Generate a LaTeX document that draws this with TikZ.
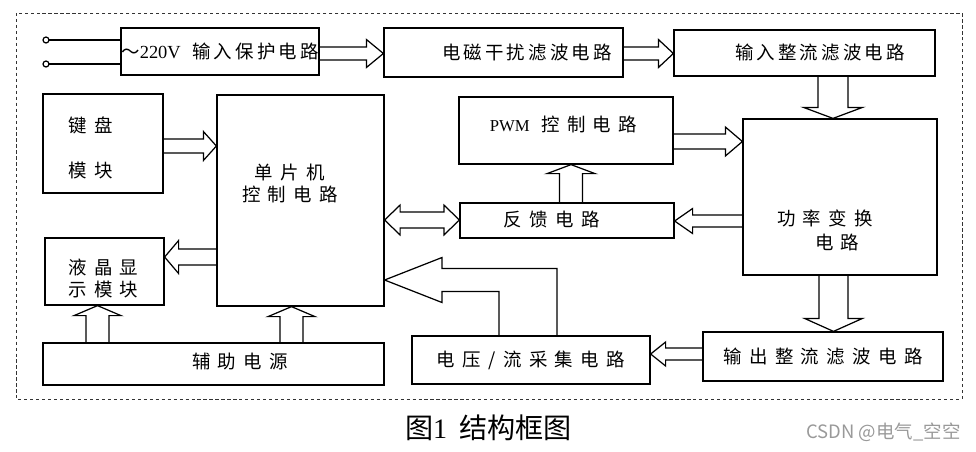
\documentclass[tikz,border=0pt]{standalone}
\usepackage{fontspec}
\setmainfont{Liberation Serif}
\newfontfamily\cjk[LetterSpace=40]{Noto Sans CJK SC}
\newfontfamily\cjkt[LetterSpace=17]{Noto Sans CJK SC}
\newfontfamily\cjkc{Noto Sans CJK SC}
\usetikzlibrary{calc}

\newdimen\Upx
\Upx=0.02cm
\newcommand{\widecn}{\cjk\fontsize{10.5}{13}\selectfont}
\newcommand{\tightcn}{\cjkt\fontsize{10.5}{13}\selectfont}

% hollow block arrow: tail, tip, shaft half width, head half width, head length
\newcommand{\blkarrow}[5]{%
  \coordinate (ta) at (#1);
  \coordinate (tb) at (#2);
  \coordinate (hb) at ($(tb)!#5*\Upx!(ta)$);
  \draw[blkline] ($(ta)!#3*\Upx!90:(tb)$) -- ($(hb)!#3*\Upx!90:(tb)$) -- ($(hb)!#4*\Upx!90:(tb)$)
    -- (tb) -- ($(hb)!#4*\Upx!-90:(tb)$) -- ($(hb)!#3*\Upx!-90:(tb)$) -- ($(ta)!#3*\Upx!-90:(tb)$);
}
% hollow arrow with two heads
\newcommand{\dblarrow}[5]{%
  \coordinate (da) at (#1);
  \coordinate (db) at (#2);
  \coordinate (ha) at ($(da)!#5*\Upx!(db)$);
  \coordinate (hb) at ($(db)!#5*\Upx!(da)$);
  \draw[blkline] (da) -- ($(ha)!#4*\Upx!90:(db)$) -- ($(ha)!#3*\Upx!90:(db)$) -- ($(hb)!#3*\Upx!-90:(da)$)
    -- ($(hb)!#4*\Upx!-90:(da)$) -- (db) -- ($(hb)!#4*\Upx!90:(da)$) -- ($(hb)!#3*\Upx!90:(da)$)
    -- ($(ha)!#3*\Upx!-90:(db)$) -- ($(ha)!#4*\Upx!-90:(db)$) -- cycle;
}

\begin{document}
\begin{tikzpicture}[x=0.02cm,y=-0.02cm,
  box/.style={draw,line width=0.7pt,inner sep=0pt,font=\widecn},
  sz/.style 2 args={minimum width=#1\Upx,minimum height=#2\Upx},
  txt/.style={inner sep=0pt,font=\widecn},
  term/.style={circle,draw,fill=white,line width=0.7pt,inner sep=0pt,minimum size=6\Upx},
  blkline/.style={line width=0.7pt,line join=miter},
  frame/.style={line width=0.5pt,dash pattern=on 1.8pt off 1.6pt,black!80}]
  \useasboundingbox (0,0) rectangle (976,451);
  \draw[frame] (16,13) rectangle (962,399);

  % blocks
  \node[box,sz={198}{47}] (inprot) at (220,51.5) {{\cjkc ～}{\rmfamily 220V} {\cjkt 输入保护电路}};
  \node[box,sz={239}{49}] (emi) at (503.5,52.5) {};
  \node[txt,font=\tightcn] (emitxt) at (527,53) {电磁干扰滤波电路};
  \node[box,sz={261}{46}] (inrect) at (804.5,53) {};
  \node[txt,font=\tightcn] (inrecttxt) at (820,53) {输入整流滤波电路};
  \node[box,sz={120}{99}] (key) at (103,143.5) {};
  \node[txt,align=left,anchor=west] (keytxt) at (68,148) {键盘\\[13pt]模块};
  \node[box,sz={167}{211}] (mcu) at (300.5,200.5) {};
  \node[txt,align=center] (mcutxt) at (290,183.5) {单片机\\控制电路};
  \node[box,sz={119}{67}] (lcd) at (104.5,271.5) {};
  \node[txt,align=left,anchor=west] (lcdtxt) at (68,278.5) {液晶显\\示模块};
  \node[box,sz={341}{42}] (aux) at (213.5,364) {};
  \node[txt] (auxtxt) at (240,361) {辅助电源};
  \node[box,sz={214}{67}] (pwm) at (566,130.5) {};
  \node[txt] (pwmtxt) at (563.5,124) {{\rmfamily\fontsize{9.5}{12}\selectfont PWM}\ 控制电路};
  \node[box,sz={214}{35}] (fb) at (567,220.5) {};
  \node[txt] (fbtxt) at (551.5,219) {反馈电路};
  \node[box,sz={194}{156}] (power) at (840,197) {};
  \node[txt,align=left] (powertxt) at (825,230.5) {功率变换\\[1pt]\hspace*{38\Upx}电路};
  \node[box,sz={238}{48}] (samp) at (531,360) {电压/流采集电路};
  \node[box,sz={240}{49}] (outrect) at (823,356.5) {输出整流滤波电路};

  % input terminals
  \foreach \y/\n in {40/t1,64/t2}{
    \draw[line width=0.7pt] (46,\y) -- (inprot.west |- 0,\y);
    \node[term] (\n) at (46,\y) {};
  }

  % block arrows
  \blkarrow{inprot.east |- 0,53.5}{emi.west |- 0,53.5}{6.5}{14}{17}
  \blkarrow{emi.east |- 0,53.5}{inrect.west |- 0,53.5}{6.5}{14}{15}
  \blkarrow{inrect.south -| 833,0}{power.north -| 833,0}{15}{29.5}{11}
  \blkarrow{key.east |- 0,146}{mcu.west |- 0,146}{7}{14.5}{13}
  \blkarrow{mcu.west |- 0,257}{lcd.east |- 0,257}{8}{16.5}{14}
  \blkarrow{aux.north -| 97.5,0}{lcd.south -| 97.5,0}{11.5}{23.5}{10}
  \blkarrow{aux.north -| 291.5,0}{mcu.south -| 291.5,0}{11.5}{23.5}{10}
  \dblarrow{mcu.east |- 0,220}{fb.west |- 0,220}{8}{15}{15.5}
  \blkarrow{fb.north -| 571,0}{pwm.south -| 571,0}{11.5}{24}{9}
  \blkarrow{pwm.east |- 0,141.5}{power.west |- 0,141.5}{7.5}{14.5}{17}
  \blkarrow{power.west |- 0,221}{fb.east |- 0,221}{6}{12.5}{18}
  \blkarrow{power.south -| 833.5,0}{outrect.north -| 833.5,0}{14.5}{29}{13}
  \blkarrow{outrect.west |- 0,354}{samp.east |- 0,354}{6}{12}{15}
  \draw[blkline] (samp.north -| 557,0) -- (557,268.5) -- (442,268.5) -- (442,257.5)
    -- (mcu.east |- 0,280) -- (442,302.5) -- (442,291.5) -- (499,291.5) -- (samp.north -| 499,0);

  \node[txt,font=\cjkc\fontsize{16}{19}\selectfont] (cap) at (488.5,428) {图{\rmfamily 1}\hspace{7pt}结构框图};
  \node[txt,font=\cjkc\fontsize{10.5}{12}\selectfont,text=black!40] (wm) at (883.5,432) {CSDN @电气\_空空};
\end{tikzpicture}
\end{document}
